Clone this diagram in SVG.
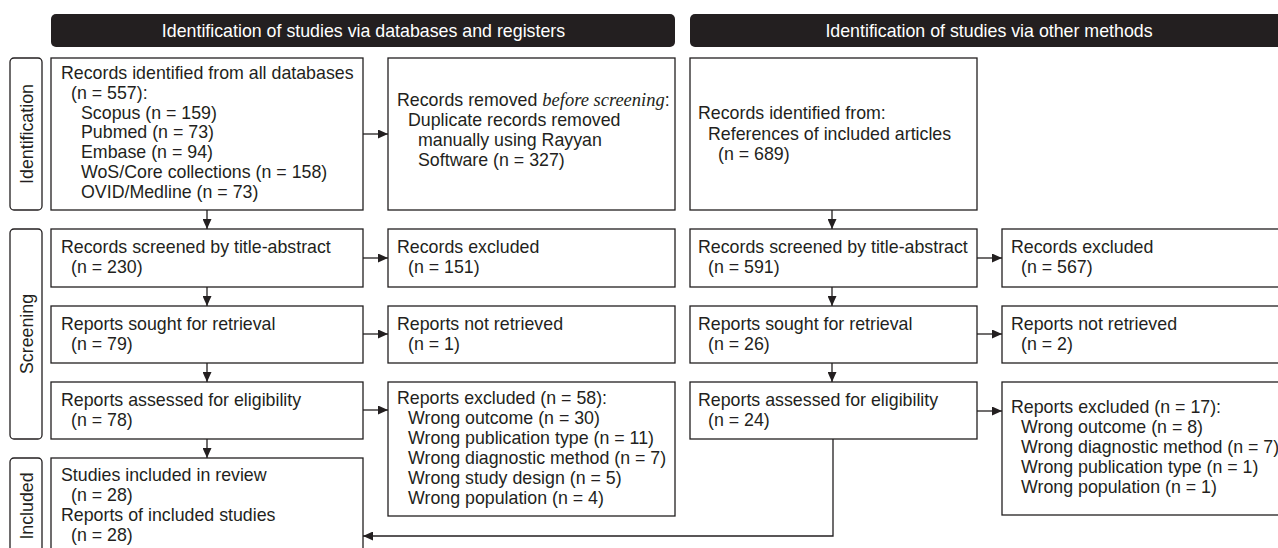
<svg xmlns="http://www.w3.org/2000/svg" width="1278" height="548" viewBox="0 0 1278 548">
  <style>
    text { font-family: "Liberation Sans", Arial, sans-serif; font-size: 17.8px; fill: #231f20; }
    .hdr { fill: #231f20; }
    .hdr-t { fill: #ffffff; text-anchor: middle; }
    .box { fill: #ffffff; stroke: #231f20; stroke-width: 1.3; }
    .side { fill: #ffffff; stroke: #231f20; stroke-width: 1.3; }
    .side-t { text-anchor: middle; }
    .conn { fill: none; stroke: #231f20; stroke-width: 1.3; }
    .em { font-family: "Liberation Serif", "Times New Roman", serif; font-style: italic; font-size: 18.5px; }
  </style>
  <defs>
    <marker id="arrow" markerUnits="userSpaceOnUse" markerWidth="10" markerHeight="9" refX="10" refY="4.5" orient="auto">
      <path d="M0,0 L10,4.5 L0,9 Z" fill="#231f20"/>
    </marker>
  </defs>

  <rect width="1278" height="548" fill="#ffffff"/>

  <!-- column headers -->
  <g id="header-databases">
    <rect class="hdr" x="51" y="14" width="624" height="33" rx="5"/>
    <text class="hdr-t" x="363.5" y="37">Identification of studies via databases and registers</text>
  </g>
  <g id="header-other">
    <rect class="hdr" x="690" y="14" width="600" height="33" rx="5"/>
    <text class="hdr-t" x="989" y="37">Identification of studies via other methods</text>
  </g>

  <!-- phase labels -->
  <g id="phase-identification">
    <rect class="side" x="10" y="58" width="32" height="152" rx="4"/>
    <text class="side-t" transform="translate(33,134) rotate(-90)">Identification</text>
  </g>
  <g id="phase-screening">
    <rect class="side" x="10" y="229" width="32" height="210" rx="4"/>
    <text class="side-t" transform="translate(33,334) rotate(-90)">Screening</text>
  </g>
  <g id="phase-included">
    <rect class="side" x="10" y="458" width="32" height="98" rx="4"/>
    <text class="side-t" transform="translate(33,506) rotate(-90)">Included</text>
  </g>

  <!-- databases column -->
  <g id="db-identified">
    <rect class="box" x="51" y="58" width="312" height="152"/>
    <text x="61" y="79">Records identified from all databases</text>
    <text x="71" y="98.8">(n = 557):</text>
    <text x="81" y="118.6">Scopus (n = 159)</text>
    <text x="81" y="138.4">Pubmed (n = 73)</text>
    <text x="81" y="158.2">Embase (n = 94)</text>
    <text x="81" y="178">WoS/Core collections (n = 158)</text>
    <text x="81" y="197.8">OVID/Medline (n = 73)</text>
  </g>
  <g id="db-removed">
    <rect class="box" x="388" y="58" width="287" height="152"/>
    <text x="397" y="106">Records removed <tspan class="em">before screening</tspan>:</text>
    <text x="408" y="126">Duplicate records removed</text>
    <text x="418" y="146">manually using Rayyan</text>
    <text x="418" y="166">Software (n = 327)</text>
  </g>
  <g id="db-screened">
    <rect class="box" x="51" y="229" width="312" height="58"/>
    <text x="61" y="253">Records screened by title-abstract</text>
    <text x="71" y="273">(n = 230)</text>
  </g>
  <g id="db-excluded">
    <rect class="box" x="388" y="229" width="287" height="58"/>
    <text x="397" y="253">Records excluded</text>
    <text x="408" y="273">(n = 151)</text>
  </g>
  <g id="db-sought">
    <rect class="box" x="51" y="306" width="312" height="57"/>
    <text x="61" y="329.5">Reports sought for retrieval</text>
    <text x="71" y="349.5">(n = 79)</text>
  </g>
  <g id="db-not-retrieved">
    <rect class="box" x="388" y="306" width="287" height="57"/>
    <text x="397" y="329.5">Reports not retrieved</text>
    <text x="408" y="349.5">(n = 1)</text>
  </g>
  <g id="db-assessed">
    <rect class="box" x="51" y="382" width="312" height="57"/>
    <text x="61" y="405.5">Reports assessed for eligibility</text>
    <text x="71" y="425.5">(n = 78)</text>
  </g>
  <g id="db-reports-excluded">
    <rect class="box" x="388" y="382" width="287" height="134"/>
    <text x="397" y="403.5">Reports excluded (n = 58):</text>
    <text x="408" y="423.5">Wrong outcome (n = 30)</text>
    <text x="408" y="443.5">Wrong publication type (n = 11)</text>
    <text x="408" y="463.5">Wrong diagnostic method (n = 7)</text>
    <text x="408" y="483.5">Wrong study design (n = 5)</text>
    <text x="408" y="503.5">Wrong population (n = 4)</text>
  </g>
  <g id="included">
    <rect class="box" x="51" y="458" width="312" height="102"/>
    <text x="61" y="480.7">Studies included in review</text>
    <text x="71" y="500.7">(n = 28)</text>
    <text x="61" y="520.7">Reports of included studies</text>
    <text x="71" y="540.7">(n = 28)</text>
  </g>

  <!-- other methods column -->
  <g id="other-identified">
    <rect class="box" x="690" y="58" width="287" height="152"/>
    <text x="698" y="119">Records identified from:</text>
    <text x="708" y="139.5">References of included articles</text>
    <text x="718" y="160">(n = 689)</text>
  </g>
  <g id="other-screened">
    <rect class="box" x="690" y="229" width="287" height="58"/>
    <text x="698" y="253">Records screened by title-abstract</text>
    <text x="708" y="273">(n = 591)</text>
  </g>
  <g id="other-excluded">
    <rect class="box" x="1002" y="229" width="290" height="58"/>
    <text x="1011" y="253">Records excluded</text>
    <text x="1021" y="273">(n = 567)</text>
  </g>
  <g id="other-sought">
    <rect class="box" x="690" y="306" width="287" height="57"/>
    <text x="698" y="329.5">Reports sought for retrieval</text>
    <text x="708" y="349.5">(n = 26)</text>
  </g>
  <g id="other-not-retrieved">
    <rect class="box" x="1002" y="306" width="290" height="57"/>
    <text x="1011" y="329.5">Reports not retrieved</text>
    <text x="1021" y="349.5">(n = 2)</text>
  </g>
  <g id="other-assessed">
    <rect class="box" x="690" y="382" width="287" height="57"/>
    <text x="698" y="405.5">Reports assessed for eligibility</text>
    <text x="708" y="425.5">(n = 24)</text>
  </g>
  <g id="other-reports-excluded">
    <rect class="box" x="1002" y="382" width="290" height="133"/>
    <text x="1011" y="413">Reports excluded (n = 17):</text>
    <text x="1021" y="433">Wrong outcome (n = 8)</text>
    <text x="1021" y="453">Wrong diagnostic method (n = 7)</text>
    <text x="1021" y="473">Wrong publication type (n = 1)</text>
    <text x="1021" y="493">Wrong population (n = 1)</text>
  </g>

  <!-- connectors -->
  <g id="connectors">
    <line class="conn" x1="363" y1="134" x2="388" y2="134" marker-end="url(#arrow)"/>
    <line class="conn" x1="207" y1="210" x2="207" y2="229" marker-end="url(#arrow)"/>
    <line class="conn" x1="363" y1="258" x2="388" y2="258" marker-end="url(#arrow)"/>
    <line class="conn" x1="207" y1="287" x2="207" y2="306" marker-end="url(#arrow)"/>
    <line class="conn" x1="363" y1="334" x2="388" y2="334" marker-end="url(#arrow)"/>
    <line class="conn" x1="207" y1="363" x2="207" y2="382" marker-end="url(#arrow)"/>
    <line class="conn" x1="363" y1="410" x2="388" y2="410" marker-end="url(#arrow)"/>
    <line class="conn" x1="207" y1="439" x2="207" y2="458" marker-end="url(#arrow)"/>

    <line class="conn" x1="832" y1="210" x2="832" y2="229" marker-end="url(#arrow)"/>
    <line class="conn" x1="977" y1="258" x2="1002" y2="258" marker-end="url(#arrow)"/>
    <line class="conn" x1="832" y1="287" x2="832" y2="306" marker-end="url(#arrow)"/>
    <line class="conn" x1="977" y1="334" x2="1002" y2="334" marker-end="url(#arrow)"/>
    <line class="conn" x1="832" y1="363" x2="832" y2="382" marker-end="url(#arrow)"/>
    <line class="conn" x1="977" y1="411" x2="1002" y2="411" marker-end="url(#arrow)"/>
    <polyline class="conn" points="833,439 833,536 363,536" marker-end="url(#arrow)"/>
  </g>
</svg>
